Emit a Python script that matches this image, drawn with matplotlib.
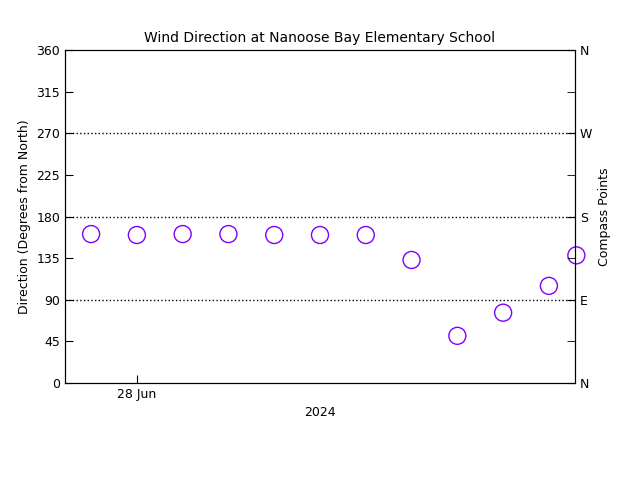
import matplotlib
matplotlib.use("Agg")
import matplotlib.pyplot as plt

# hourly-ish positions (x in steps, 28 Jun at step 1)
steps = [0, 1, 2, 3, 4, 5, 6, 7, 8, 9, 10, 10.6]
direction = [161, 160, 161, 161, 160, 160, 160, 133, 51, 76, 105, 138]
compass_ticks = [0, 90, 180, 270, 360]
compass_labels = ["N", "E", "S", "W", "N"]

plt.rcParams["font.size"] = 9
fig = plt.figure(figsize=(6.4, 4.8), dpi=100)
ax = fig.add_axes([65/640, 97/480, 510/640, 333/480])

ax.scatter(steps, direction, s=150, facecolors="none", edgecolors="#8000ff", linewidths=1, clip_on=False, zorder=3)
for g in [90, 180, 270]:
    ax.axhline(g, color="black", linestyle=":", linewidth=1)

ax.set_xlim(-0.57, 10.57)
ax.set_ylim(0, 360)
ax.set_yticks(range(0, 361, 45))
ax.set_xticks([1])
ax.set_xticklabels(["28 Jun"])
ax.tick_params(direction="in", length=6)
ax.set_ylabel("Direction (Degrees from North)")
ax.set_xlabel("2024")
ax.set_title("Wind Direction at Nanoose Bay Elementary School", fontsize=10)

ax2 = ax.twinx()
ax2.set_ylim(0, 360)
ax2.set_yticks(range(0, 361, 45), minor=True)
ax2.set_yticks(compass_ticks)
ax2.set_yticklabels(compass_labels)
ax2.tick_params(direction="in", length=6, which="both")
ax2.set_ylabel("Compass Points")

fig.savefig("out.png", dpi=100)
